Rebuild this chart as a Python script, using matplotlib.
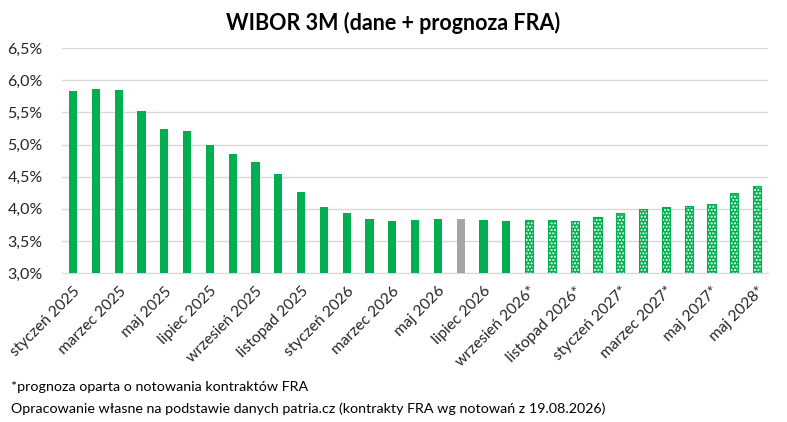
import matplotlib
matplotlib.use("Agg")
import matplotlib.pyplot as plt
from matplotlib.ticker import FuncFormatter

# monthly WIBOR 3M, last 11 bars are FRA forecasts
months = [
    "styczeń 2025", "luty 2025", "marzec 2025", "kwiecień 2025", "maj 2025",
    "czerwiec 2025", "lipiec 2025", "sierpień 2025", "wrzesień 2025",
    "październik 2025", "listopad 2025", "grudzień 2025", "styczeń 2026",
    "luty 2026", "marzec 2026", "kwiecień 2026", "maj 2026", "czerwiec 2026",
    "lipiec 2026", "sierpień 2026", "wrzesień 2026*", "październik 2026*",
    "listopad 2026*", "grudzień 2026*", "styczeń 2027*", "luty 2027*",
    "marzec 2027*", "kwiecień 2027*", "maj 2027*", "listopad 2027*",
    "maj 2028*",
]
wibor = [
    5.83, 5.86, 5.85, 5.52, 5.24, 5.21, 4.99, 4.86, 4.72, 4.54, 4.26,
    4.02, 3.93, 3.84, 3.81, 3.82, 3.84, 3.84, 3.82, 3.81,
    3.82, 3.82, 3.81, 3.87, 3.93, 3.99, 4.02, 4.05, 4.08, 4.24, 4.35,
]
n_actual = 20      # bars before the forecast starts
gray_idx = 17      # highlighted month

GREEN = "#00B050"
GRAY = "#A5A5A5"
TXT = "#262626"

plt.rcParams["font.family"] = ["Lato", "DejaVu Sans"]

fig = plt.figure(figsize=(7.87, 4.22), dpi=100)
ax = fig.add_axes([0.079, 0.353, 0.897, 0.533])

x = list(range(len(wibor)))
width = 0.36
for i in x:
    h = wibor[i] - 3.0
    if i < n_actual:
        color = GRAY if i == gray_idx else GREEN
        ax.bar(i, h, bottom=3.0, width=width, color=color, zorder=3)
    else:
        ax.bar(i, h, bottom=3.0, width=width, facecolor=GREEN,
               edgecolor="white", hatch=".....", linewidth=0, zorder=3)
        ax.bar(i, h, bottom=3.0, width=width, facecolor="none",
               edgecolor=GREEN, linewidth=0.8, zorder=4)

ax.set_ylim(3.0, 6.5)
ax.set_yticks([3.0, 3.5, 4.0, 4.5, 5.0, 5.5, 6.0, 6.5])
ax.yaxis.set_major_formatter(FuncFormatter(lambda v, p: f"{v:.1f}%".replace(".", ",")))
ax.set_xlim(-0.48, 30.48)
ax.set_xticks(x[::2])
ax.set_xticklabels(months[::2], rotation=45, ha="right", rotation_mode="anchor")

ax.grid(axis="y", color="#D9D9D9", linewidth=1, zorder=0)
for s in ["top", "right", "left"]:
    ax.spines[s].set_visible(False)
ax.spines["bottom"].set_color("#D9D9D9")
ax.tick_params(axis="both", length=0, colors=TXT)
ax.tick_params(axis="x", labelsize=11.2, pad=8)
ax.tick_params(axis="y", labelsize=11.5, pad=14)

fig.text(0.5, 0.945, "WIBOR 3M (dane + prognoza FRA)", ha="center", va="center",
         fontsize=15.5, fontweight="bold", color="black")
fig.text(0.014, 0.083, "*prognoza oparta o notowania kontraktów FRA",
         fontsize=10.3, color="black", va="center")
fig.text(0.014, 0.032,
         "Opracowanie własne na podstawie danych patria.cz (kontrakty FRA wg notowań z 19.08.2026)",
         fontsize=10.3, color="black", va="center")

fig.savefig("out.png", dpi=100)
